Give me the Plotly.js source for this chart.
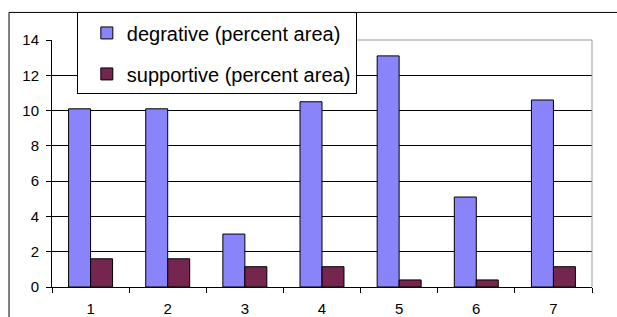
<!DOCTYPE html>
<html><head><meta charset="utf-8">
<script src="https://cdn.plot.ly/plotly-3.0.1.min.js"></script>
<style>html,body{margin:0;padding:0;background:#fff}#chart{width:617px;height:317px}</style>
</head><body><div id="chart"></div>
<script>
const categories = ["1","2","3","4","5","6","7"];
const degrative = [10.1, 10.1, 3.0, 10.5, 13.1, 5.1, 10.6];
const supportive = [1.6, 1.6, 1.15, 1.15, 0.4, 0.4, 1.15];
const seriesNames = ["degrative (percent area)", "supportive (percent area)"];
const yTicks = [0,2,4,6,8,10,12,14];

const traces = [
  {type:'bar', x:categories, y:degrative, name:seriesNames[0], legendgroup:'a',
   marker:{color:'#8a84fa', line:{color:'#000', width:1}}},
  {type:'bar', x:categories, y:supportive, name:seriesNames[1], legendgroup:'b',
   marker:{color:'#74264f', line:{color:'#000', width:1}}}
];
const layout = {
  width:617, height:317,
  margin:{l:52, r:25, t:36, b:30, pad:0},
  paper_bgcolor:'#fff', plot_bgcolor:'#fff',
  font:{family:'Liberation Sans, Arial, sans-serif', color:'#000', size:14},
  barmode:'group', bargap:0.43, bargroupgap:0,
  xaxis:{type:'category', showline:true, linecolor:'#000', linewidth:1,
    ticks:'outside', tickson:'boundaries', ticklen:5, tickcolor:'#000',
    showgrid:false, tickfont:{size:15}, ticklabelstandoff:8, fixedrange:true},
  yaxis:{range:[0,14], tickvals:yTicks, ticktext:yTicks.map(String),
    showline:true, linecolor:'#000', linewidth:1, ticks:'outside', ticklen:5, tickcolor:'#000',
    showgrid:true, gridcolor:'#000', gridwidth:1, zeroline:false, tickfont:{size:15},
    ticklabelstandoff:4, fixedrange:true},
  showlegend:true,
  legend:{x:0.046, y:1.1116, xanchor:'left', yanchor:'top', bgcolor:'#fff',
    bordercolor:'#000', borderwidth:1, font:{size:20}, tracegroupgap:12,
    traceorder:'grouped', indentation:9},
  shapes:[
    {type:'line', xref:'paper', yref:'paper', x0:0.046, x1:1, y0:1, y1:1, line:{color:'#999', width:1}, layer:'above'},
    {type:'line', xref:'paper', yref:'paper', x0:1, x1:1, y0:0, y1:1, line:{color:'#999', width:1}, layer:'above'},
    {type:'line', xref:'paper', yref:'paper', x0:-0.0796, x1:1.1, y0:1.1116, y1:1.1116, line:{color:'#000', width:1}},
    {type:'line', xref:'paper', yref:'paper', x0:-0.0796, x1:-0.0796, y0:-0.2, y1:1.1116, line:{color:'#000', width:1}}
  ]
};
Plotly.newPlot('chart', traces, layout, {displayModeBar:false, staticPlot:true});
</script></body></html>
